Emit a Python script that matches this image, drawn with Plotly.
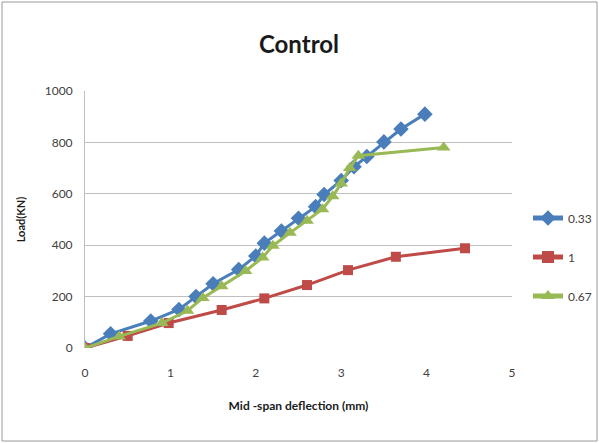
import plotly.graph_objects as go

x_033 = [0, 0.3, 0.77, 1.1, 1.3, 1.5, 1.8, 2.0, 2.1, 2.3, 2.5, 2.7, 2.8, 3.0, 3.15, 3.3, 3.5, 3.7, 3.98]
y_033 = [0, 55, 105, 150, 200, 250, 305, 358, 408, 455, 505, 550, 597, 652, 705, 745, 802, 852, 910]

x_1 = [0, 0.5, 0.98, 1.6, 2.1, 2.6, 3.08, 3.64, 4.45]
y_1 = [0, 47, 97, 148, 193, 245, 303, 355, 388]

x_067 = [0, 0.4, 0.9, 1.2, 1.38, 1.6, 1.88, 2.08, 2.2, 2.4, 2.6, 2.78, 2.9, 3.0, 3.1, 3.2, 4.2]
y_067 = [0, 45, 97, 145, 195, 240, 300, 352, 398, 448, 495, 540, 590, 640, 700, 748, 780]

series = [
    ("0.33", x_033, y_033, "#4A7EBB", "diamond", 12),
    ("1", x_1, y_1, "#BE4B48", "square", 10),
    ("0.67", x_067, y_067, "#98B954", "triangle-up", 12),
]

fig = go.Figure()
for name, xs, ys, col, sym, sz in series:
    fig.add_trace(go.Scatter(x=xs, y=ys, name=name, mode="lines+markers",
                             legendgroup=name,
                             line=dict(color=col, width=3),
                             marker=dict(symbol=sym, size=sz, color=col)))

W, H = 599, 443
ml, mr, mt, mb = 85, 87, 91, 95
pw, ph = W - ml - mr, H - mt - mb

fig.update_layout(
    width=W, height=H,
    margin=dict(l=ml, r=mr, t=mt, b=mb, autoexpand=False),
    paper_bgcolor="white", plot_bgcolor="white",
    font=dict(family="Lato, Open Sans, sans-serif", color="#404040", size=12),
    title=dict(text="<b>Control</b>", x=299 / W, xanchor="center",
               y=1 - 45 / H, yanchor="middle",
               font=dict(size=24, color="#1a1a1a")),
    xaxis=dict(range=[0, 5], dtick=1, showgrid=False, zeroline=False,
               showline=False, ticks="outside", ticklen=14, tickcolor="rgba(0,0,0,0)",
               tickfont=dict(size=12, color="#404040"), automargin=False,
               title=dict(text="<b>Mid -span deflection (mm)</b>",
                          font=dict(size=12, color="#1a1a1a"), standoff=22)),
    yaxis=dict(range=[0, 1000], dtick=200, showgrid=True, gridcolor="#bfbfbf",
               gridwidth=1, zeroline=False, showline=True, linecolor="#bfbfbf",
               ticks="outside", ticklen=9, tickcolor="rgba(0,0,0,0)",
               tickfont=dict(size=12, color="#404040"), automargin=False,
               title=dict(text="<b>Load(KN)</b>", font=dict(size=11, color="#1a1a1a"),
                          standoff=16)),
    legend=dict(x=528 / W, xref="container", xanchor="left",
                y=1 - 257 / H, yref="container", yanchor="middle",
                font=dict(size=12, color="#404040"), tracegroupgap=20,
                itemsizing="constant", itemwidth=30, bgcolor="rgba(0,0,0,0)"),
    showlegend=True,
)
fig.add_shape(type="rect", xref="paper", yref="paper",
              x0=-(ml - 2) / pw, x1=1 + (mr - 2) / pw,
              y0=-(mb - 2) / ph, y1=1 + (mt - 2) / ph,
              line=dict(color="#9a9a9a", width=1), layer="below")
fig.write_html("out.html")
